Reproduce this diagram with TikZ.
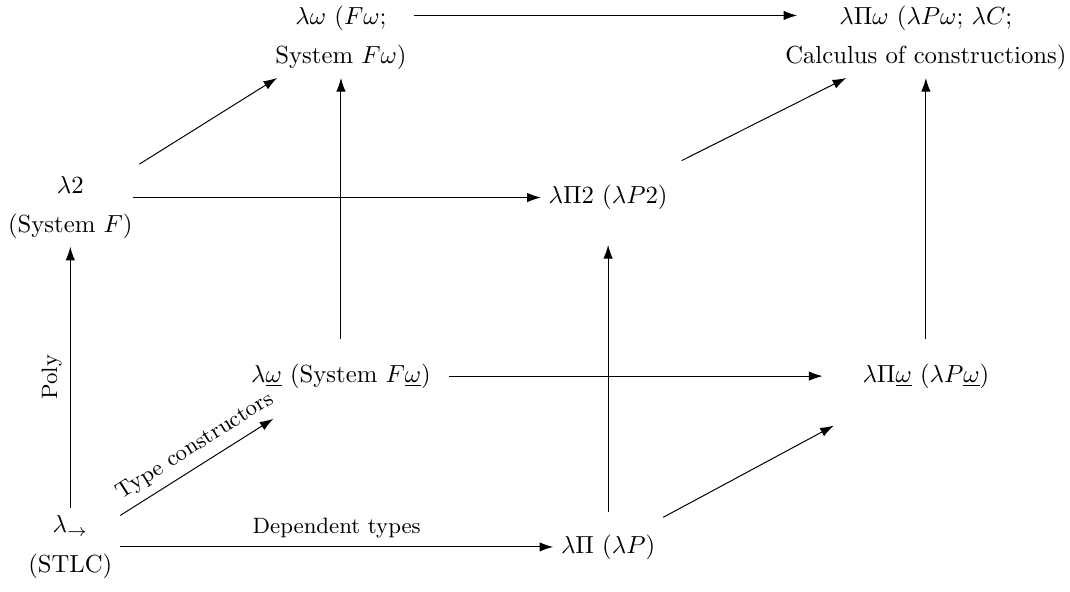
\documentclass[tikz,border=0pt]{standalone}
\usepackage{amsmath}
\usetikzlibrary{arrows.meta}
\begin{document}
\begin{tikzpicture}[sys/.style={align=center, inner sep=3pt}, lbl/.style={font=\small}, >={Latex[length=5.5pt,width=3.8pt]}]
    \useasboundingbox (0,0) rectangle (15.22,8.41);

    \node [sys] (stlc) at (1.00,0.63) {$\lambda_{\to}$\\[4pt](STLC)};
    \node [sys] (l2) at (1.00,5.46) {$\lambda 2$\\[4pt](System $F$)};
    \node [sys] (lw) at (4.85,7.87) {$\lambda\omega$ ($F\omega$;\\[4pt]System $F\omega$)};
    \node [sys] (lpw) at (13.17,7.87) {$\lambda\Pi\omega$ ($\lambda P\omega$;\ $\lambda C$;\\[4pt]Calculus of constructions)};
    \node [sys] (lp) at (8.65,0.63) {$\lambda\Pi$ ($\lambda P$)};
    \node [sys] (lp2) at (8.65,5.60) {$\lambda\Pi 2$ ($\lambda P2$)};
    \node [sys] (lwu) at (4.85,3.06) {$\lambda\underline{\omega}$ (System $F\underline{\omega}$)};
    \node [sys] (lpwu) at (13.17,3.06) {$\lambda\Pi\underline{\omega}$ ($\lambda P\underline{\omega}$)};

    \begin{scope}[->]
        % from the simply typed calculus
        \draw (stlc) -- node [lbl, above] {Dependent types} (lp);
        \draw (stlc) -- node [lbl, above, sloped] {Poly} (l2);
        \draw [shorten >=17pt] (stlc) -- node [lbl, above, sloped, pos=0.45] {Type constructors} (lwu);
        % front face
        \draw [shorten <=6pt, shorten >=11pt] (lp) -- (lp2);
        \draw [shorten <=8pt, shorten >=25pt] (lp) -- (lpwu);
        \draw [shorten <=-3pt] (l2.east |- lp2) -- (lp2);
        \draw [shorten <=3pt] (l2) -- (lw);
        % back face
        \draw [shorten <=4pt, shorten >=13pt] (lwu) -- (lpwu);
        \draw [shorten <=7pt] (lwu) -- (lw);
        \draw [shorten <=7pt] (lpwu) -- (lpw);
        \draw [shorten <=15pt] (lp2) -- (lpw);
        \draw [shorten >=-8pt] ([yshift=0.32cm]lw.east) -- ([yshift=0.32cm]lpw.west);
    \end{scope}
\end{tikzpicture}
\end{document}
